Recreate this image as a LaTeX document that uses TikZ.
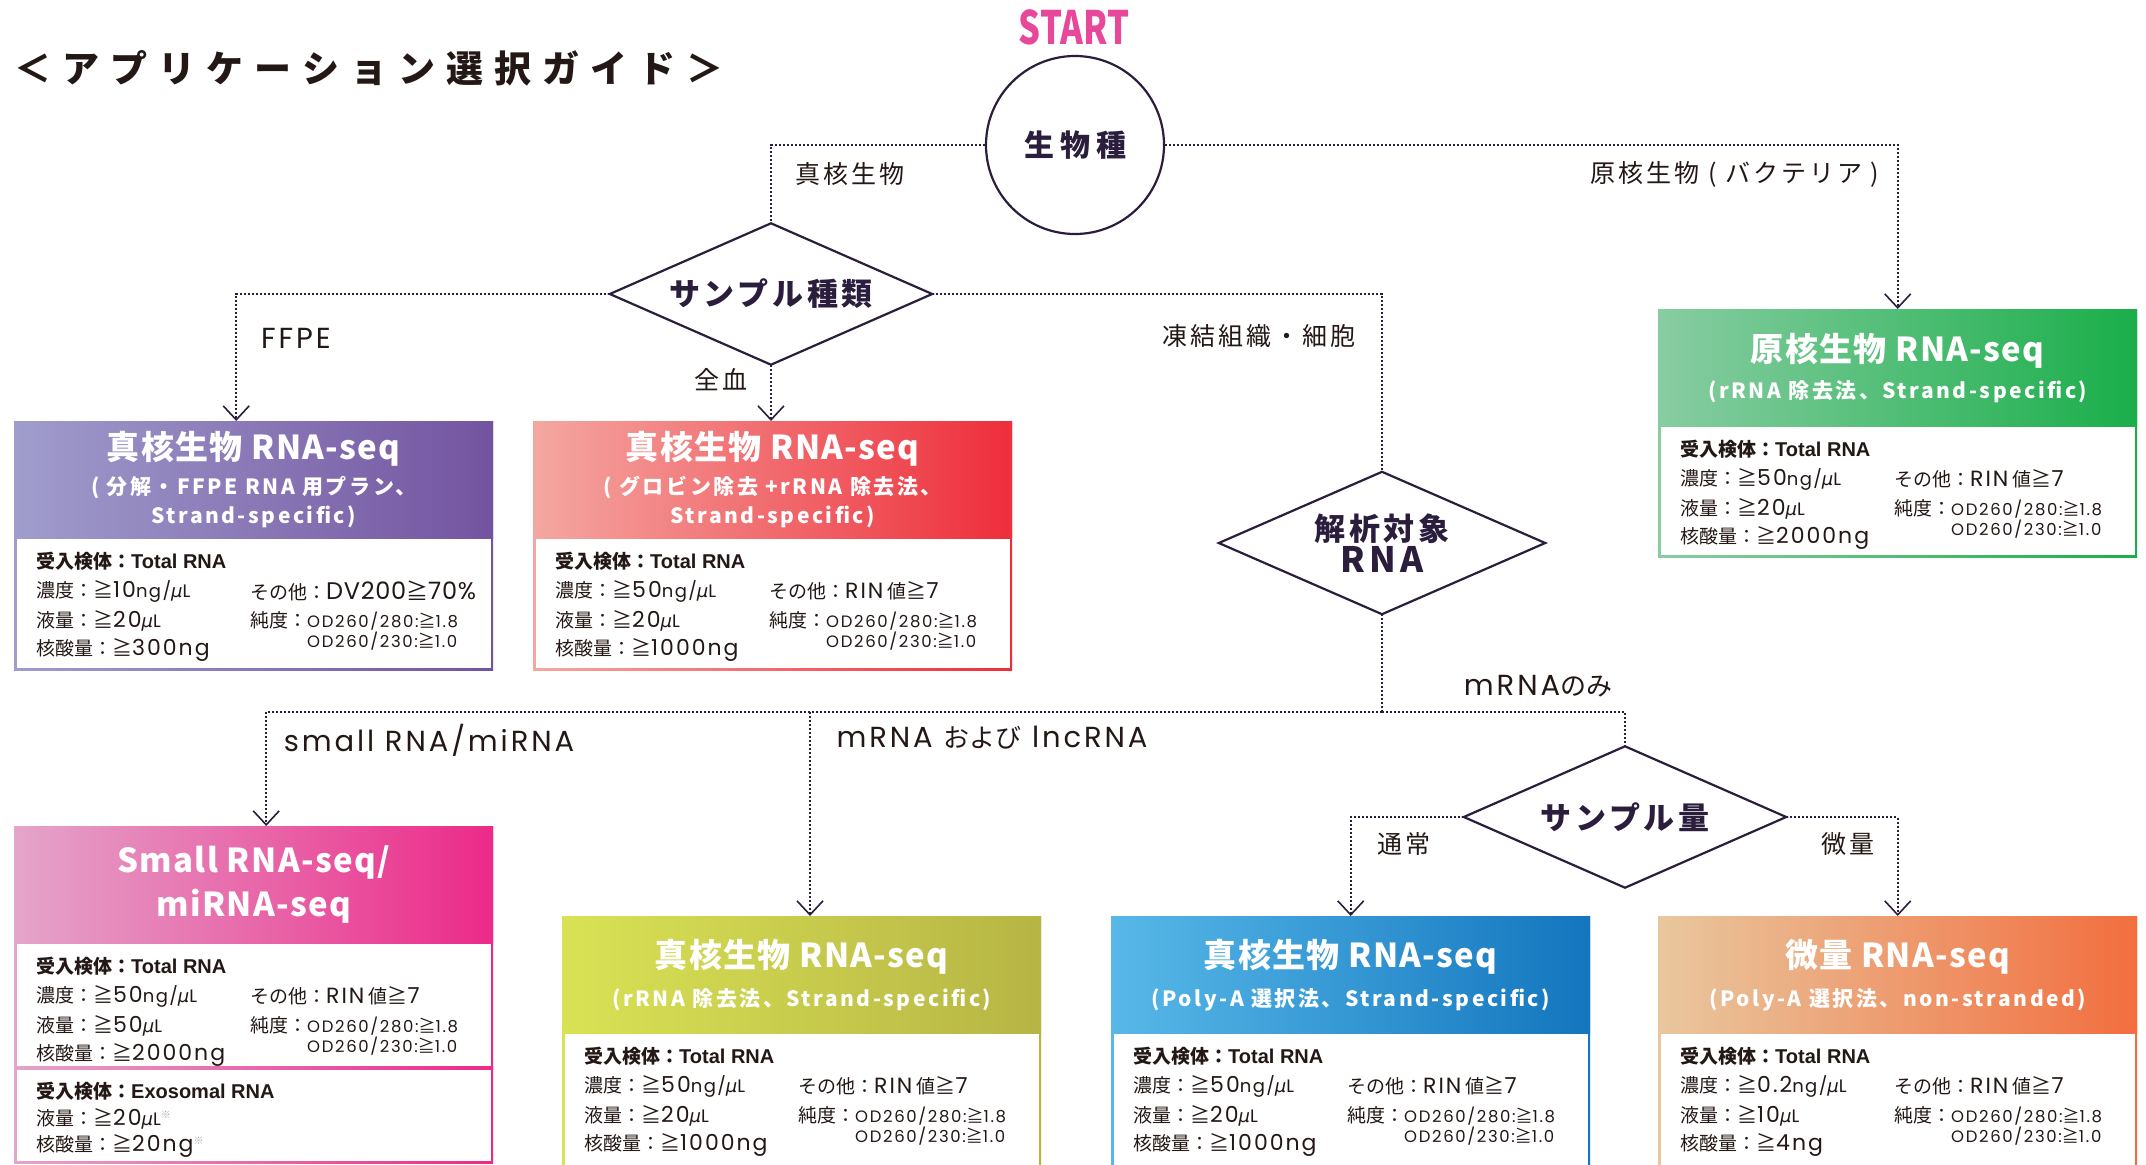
\documentclass[tikz,border=0pt]{standalone}
\usepackage{fontspec}
\usepackage{graphicx}
\setmainfont{Noto Sans CJK JP}
\newfontfamily\lat{Poppins}
\newfontfamily\arial{Liberation Sans}
\newfontfamily\dvs{DejaVu Sans}
\usetikzlibrary{arrows.meta,shapes.geometric,calc}
\definecolor{ink}{HTML}{2B1D3C}
\definecolor{txt}{HTML}{231815}
\definecolor{startpink}{HTML}{E8489A}
\definecolor{PL}{HTML}{A09DCC}\definecolor{PR}{HTML}{7353A0}
\definecolor{RL}{HTML}{F4A7A1}\definecolor{RR}{HTML}{EE2E3B}
\definecolor{GL}{HTML}{88CDA2}\definecolor{GR}{HTML}{1AAE4A}
\definecolor{SL}{HTML}{E4A5CA}\definecolor{SR}{HTML}{EC2A89}
\definecolor{YL}{HTML}{D9E254}\definecolor{YR}{HTML}{B6B545}
\definecolor{BL}{HTML}{57B8E8}\definecolor{BR}{HTML}{1376BE}
\definecolor{OL}{HTML}{E9C79E}\definecolor{OR}{HTML}{F26E3F}
\newcommand\fs[1]{\fontsize{#1}{#1}\selectfont}
\newcommand\lsp[1]{\addfontfeature{LetterSpace=#1}}
\newcommand\mmu{{\dvs\itshape\fs{18}μ}}
\newcommand\gq{{\fs{20}≧}}
\newcommand\Nb[1]{{\lat\fs{22}\lsp{9}#1}}
\newcommand\Nu[1]{{\lat\fs{18}\lsp{8}#1}}
\newcommand\Od[1]{{\lat\fs{16.5}\lsp{10}#1}}
\newcommand\kome{{\color{gray!70}\raisebox{7pt}{\fs{10}※}}}
\tikzset{
  link/.style={ink, line width=1.6pt, dash pattern=on 2pt off 2pt},
  conn/.style={link, -{Straight Barb[length=14pt,width=26pt,line width=1.6pt]}},
  lbl/.style={text=txt, inner sep=0, font=\fs{25}\lsp{12}},
  llat/.style={text=txt, inner sep=0, font=\lat\fs{29}\lsp{10}},
  hdr/.style={rectangle, minimum width=479pt, minimum height=117pt, inner sep=0,
    text=white, align=center, anchor=north west,
    font=\bfseries\fontsize{21}{30}\selectfont\lsp{12}},
  bt/.style={anchor=west, inner sep=0, text=txt, font=\fs{19}},
  dec/.style={rectangle, minimum width=322pt, minimum height=141pt, inner sep=0,
    text=ink, align=center, font=\bfseries\fontsize{31}{35}\selectfont\lsp{12}},
  dia/.style={ink, line width=2.2pt, line join=miter},
}
% box frame: #1 x, #2 top, #3 bottom, #4 colour prefix
\newcommand\rbox[4]{%
  \shade[left color=#4L, right color=#4R] (#1,#2) rectangle (#1+479,#3);
  \fill[white] (#1+2.5,#2+117) rectangle (#1+476.5,#3-2.5);
}
% body: #1 prefix, #2 x, #3 header bottom, #4 conc, #5 vol, #6 amount, #7 other
\newcommand\tbody[7]{%
  \node[bt,font=\bfseries\fs{19}] (#1a) at (#2+22,#3+23) {受入検体：{\arial\bfseries\fs{20}Total RNA}};
  \node[bt] (#1b) at (#2+22,#3+53) {濃度：\gq#4};
  \node[bt] (#1c) at (#2+22,#3+83) {液量：\gq#5};
  \node[bt] (#1d) at (#2+22,#3+112) {核酸量：\gq#6};
  \node[bt] (#1e) at (#2+236,#3+53) {その他：#7};
  \node[bt] (#1f) at (#2+236,#3+83) {純度：\Od{OD260/280:}{\fs{17}≧}\Od{1.8}};
  \node[bt] (#1g) at (#2+293,#3+103) {\Od{OD260/230:}{\fs{17}≧}\Od{1.0}};
}
\newcommand\diam[1]{\draw[dia] (#1.north) -- (#1.east) -- (#1.south) -- (#1.west) -- cycle;}
\begin{document}
\begin{tikzpicture}[x=1pt,y=-1pt]
\fill[white] (0,0) rectangle (2146,1164);
\useasboundingbox (0,0) rectangle (2146,1164);

% title and start
\node[anchor=west, inner sep=0, text=txt, font=\bfseries\fs{37}\lsp{30}] (title) at (14,68) {＜アプリケーション選択ガイド＞};
\node[inner sep=0, text=startpink, font=\bfseries\fs{46}] (start) at (1074,27) {\scalebox{0.75}[1]{START}};

% decision nodes
\node[circle, draw=ink, line width=2.2pt, minimum size=178pt, inner sep=0, text=ink,
  font=\bfseries\fs{30}\lsp{20}] (sp) at (1075,145) {生物種};
\node[dec] (sd) at (771,294) {サンプル種類};
\diam{sd}
\node[dec, minimum width=326pt, minimum height=142pt] (ra) at (1382,543) {解析対象\\[-3pt]{\fs{35}RNA}};
\diam{ra}
\node[dec] (sq) at (1625,817) {サンプル量};
\diam{sq}

% result boxes
\rbox{14}{421}{670}{P}
\node[hdr, left color=PL, right color=PR] (hP) at (14,421)
  {{\fs{33}\lsp{4}真核生物 RNA-seq}\\[5pt]( 分解・FFPE RNA 用プラン、\\[-1pt]Strand-specific)};
\tbody{P}{14}{538}{\Nb{10}\Nu{ng/}\mmu\Nu{L}}{\Nb{20}\mmu\Nu{L}}{\Nb{300ng}}{{\lat\fs{24}\lsp{3}DV200}{\fs{22}≧}{\lat\fs{24}\lsp{3}70\%}}

\rbox{533}{421}{670}{R}
\node[hdr, left color=RL, right color=RR] (hR) at (533,421)
  {{\fs{33}\lsp{4}真核生物 RNA-seq}\\[5pt]( グロビン除去 +rRNA 除去法、\\[-1pt]Strand-specific)};
\tbody{R}{533}{538}{\Nb{50}\Nu{ng/}\mmu\Nu{L}}{\Nb{20}\mmu\Nu{L}}{\Nb{1000ng}}{\Nb{RIN} 値\gq\Nb{7}}

\rbox{1658}{309}{557}{G}
\node[hdr, left color=GL, right color=GR] (hG) at (1658,309)
  {{\fs{33}\lsp{4}原核生物 RNA-seq}\\[7pt](rRNA 除去法、Strand-specific)};
\tbody{G}{1658}{426}{\Nb{50}\Nu{ng/}\mmu\Nu{L}}{\Nb{20}\mmu\Nu{L}}{\Nb{2000ng}}{\Nb{RIN} 値\gq\Nb{7}}

\rbox{14}{826}{1163}{S}
\node[hdr, left color=SL, right color=SR] (hS) at (14,826)
  {{\fs{33}\lsp{4}Small RNA-seq/}\\[9pt]{\fs{33}\lsp{4}miRNA-seq}};
\tbody{S}{14}{943}{\Nb{50}\Nu{ng/}\mmu\Nu{L}}{\Nb{50}\mmu\Nu{L}}{\Nb{2000ng}}{\Nb{RIN} 値\gq\Nb{7}}
\shade[left color=SL, right color=SR] (14,1066.5) rectangle (493,1069.5);
\node[bt,font=\bfseries\fs{19}] (Sh) at (36,1091) {受入検体：{\arial\bfseries\fs{20}Exosomal RNA}};
\node[bt] (Si) at (36,1119) {液量：\gq\Nb{20}\mmu\Nu{L}\kome};
\node[bt] (Sj) at (36,1146) {核酸量：\gq\Nb{20ng}\kome};

\rbox{562}{916}{1180}{Y}
\node[hdr, left color=YL, right color=YR] (hY) at (562,916)
  {{\fs{33}\lsp{4}真核生物 RNA-seq}\\[9pt](rRNA 除去法、Strand-specific)};
\tbody{Y}{562}{1033}{\Nb{50}\Nu{ng/}\mmu\Nu{L}}{\Nb{20}\mmu\Nu{L}}{\Nb{1000ng}}{\Nb{RIN} 値\gq\Nb{7}}

\rbox{1111}{916}{1180}{B}
\node[hdr, left color=BL, right color=BR] (hB) at (1111,916)
  {{\fs{33}\lsp{4}真核生物 RNA-seq}\\[9pt](Poly-A 選択法、Strand-specific)};
\tbody{B}{1111}{1033}{\Nb{50}\Nu{ng/}\mmu\Nu{L}}{\Nb{20}\mmu\Nu{L}}{\Nb{1000ng}}{\Nb{RIN} 値\gq\Nb{7}}

\rbox{1658}{916}{1180}{O}
\node[hdr, left color=OL, right color=OR] (hO) at (1658,916)
  {{\fs{33}\lsp{4}微量 RNA-seq}\\[9pt](Poly-A 選択法、non-stranded)};
\tbody{O}{1658}{1033}{\Nb{0.2}\Nu{ng/}\mmu\Nu{L}}{\Nb{10}\mmu\Nu{L}}{\Nb{4ng}}{\Nb{RIN} 値\gq\Nb{7}}

% connectors
\coordinate (j1) at (1382,712);
\coordinate (j2) at (810,712);
\draw[link] (sp.west) -| (sd.north);
\draw[conn] (sp.east) -| (hG.north);
\draw[conn] (sd.west) -| ([xshift=-17.5pt]hP.north);
\draw[conn] (sd.south) -- (sd.south |- hR.north);
\draw[link] (sd.east) -| (ra.north);
\draw[link] (ra.south) -- (j1);
\draw[conn] (j1) -| ([xshift=12.5pt]hS.north);
\draw[link] (j1) -| (sq.north);
\draw[conn] (j2) -- (j2 |- hY.north);
\draw[conn] (sq.west) -| (hB.north);
\draw[conn] (sq.east) -| (hO.north);

% labels
\node[lbl] (l1) at (850,174) {真核生物};
\node[lbl] (l2) at (1735,174) {原核生物 ( バクテリア )};
\node[llat] (l3) at (296,338) {FFPE};
\node[lbl] (l4) at (721,380) {全血};
\node[lbl] (l5) at (1259,336) {凍結組織・細胞};
\node[llat] (l6) at (429,740) {small RNA/miRNA};
\node[llat] (l7) at (992,738) {mRNA {\rmfamily\fs{26}および} lncRNA};
\node[llat] (l8) at (1538,686) {mRNA{\rmfamily\fs{26}のみ}};
\node[lbl] (l9) at (1404,844) {通常};
\node[lbl] (l10) at (1848,844) {微量};
\end{tikzpicture}
\end{document}
